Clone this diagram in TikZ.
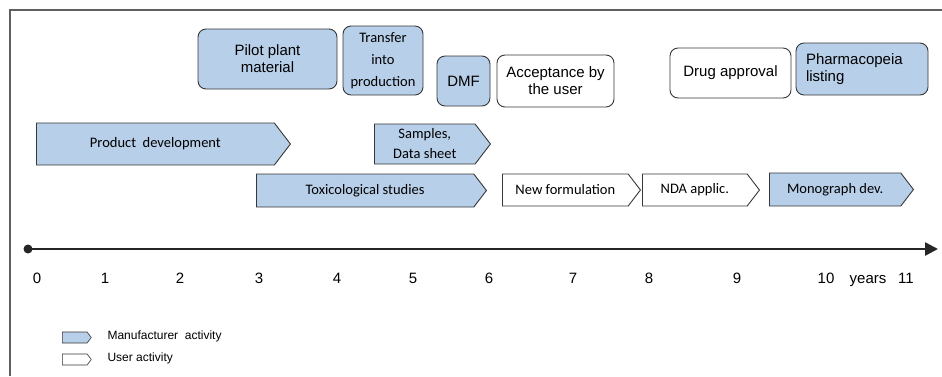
\documentclass[tikz,border=0pt]{standalone}
\usepackage{fontspec}
\setmainfont{Liberation Sans}
\newfontfamily\calibri{Carlito}
\usetikzlibrary{shapes.symbols,arrows.meta}
\definecolor{mfblue}{RGB}{184,207,233}
\definecolor{edgegray}{RGB}{55,55,55}
\tikzset{
  box/.style={draw=edgegray, line width=0.9pt, rounded corners=8pt, inner sep=0pt, align=center,
    font=\fontsize{15}{17}\selectfont},
  mfbox/.style={box, fill=mfblue},
  userbox/.style={box, fill=white},
  phase/.style={draw=edgegray, line width=0.9pt, shape=signal, signal to=east, signal pointer angle=105,
    inner sep=0pt, anchor=west, align=center, font=\calibri\fontsize{14.5}{20}\selectfont},
  mfphase/.style={phase, fill=mfblue},
  userphase/.style={phase, fill=white},
  tick/.style={font=\fontsize{15}{17}\selectfont, anchor=base},
  legend/.style={font=\fontsize{12}{13}\selectfont, anchor=west}
}

\begin{document}
\begin{tikzpicture}[x=1pt, y=-1pt]
  \useasboundingbox (0,0) rectangle (942,376);
  % frame
  \draw[edgegray!80, line width=1.2pt] (10,376) -- (10,10) -- (942,10);

  % milestones
  \node[mfbox, minimum width=139pt, minimum height=60pt] (pilot) at (267.5,59) {Pilot plant\\material};
  \node[mfbox, minimum width=80pt, minimum height=69pt, font=\calibri\fontsize{14.5}{22}\selectfont] (transfer) at (383,60.5) {Transfer\\into\\production};
  \node[mfbox, minimum width=53pt, minimum height=50pt] (dmf) at (463.5,81) {DMF};
  \node[userbox, minimum width=117pt, minimum height=52pt] (accept) at (555.5,81) {Acceptance by\\the user};
  \node[userbox, minimum width=121pt, minimum height=50pt] (approval) at (730.5,73) {Drug approval};
  \node[mfbox, minimum width=132pt, minimum height=52pt, align=left, text width=112pt] (listing) at (862,69) {Pharmacopeia\\listing};

  % activities
  \node[mfphase, minimum width=254pt, minimum height=42pt] (proddev) at (36,144) {Product\ \ development};
  \node[mfphase, minimum width=116pt, minimum height=40pt] (samples) at (374,144) {Samples,\\Data sheet};
  \node[mfphase, minimum width=230pt, minimum height=33pt] (toxic) at (256,190.5) {Toxicological studies};
  \node[userphase, minimum width=138pt, minimum height=32pt] (newform) at (502,190) {New formulation};
  \node[userphase, minimum width=117pt, minimum height=32pt] (nda) at (642,190) {NDA applic.};
  \node[mfphase, minimum width=144pt, minimum height=33pt] (mono) at (769,189.5) {Monograph dev.};

  % time axis
  \coordinate (start) at (28,249);
  \coordinate (stop) at (938,249);
  \draw[line width=2.6pt, black!85, -{Triangle[length=13pt,width=13pt]}] (start) -- (stop);
  \fill[black!85] (start) circle (4.5pt);
  \foreach \yr/\xpos in {0/37,1/105,2/180,3/259,4/337,5/413,6/489,7/573,8/649,9/737,10/826,11/906}
    \node[tick] (yr\yr) at (\xpos,283) {\yr};
  \node[tick] (years) at (868,283) {years};

  % legend
  \node[mfphase, minimum width=29pt, minimum height=11pt, line width=0.6pt] (mfkey) at (62,337.5) {};
  \node[userphase, minimum width=29pt, minimum height=11pt, line width=0.6pt] (userkey) at (62,359.5) {};
  \node[legend] (mflabel) at (104,336) {Manufacturer\ \ activity};
  \node[legend] (userlabel) at (104,358) {User activity};
\end{tikzpicture}
\end{document}
